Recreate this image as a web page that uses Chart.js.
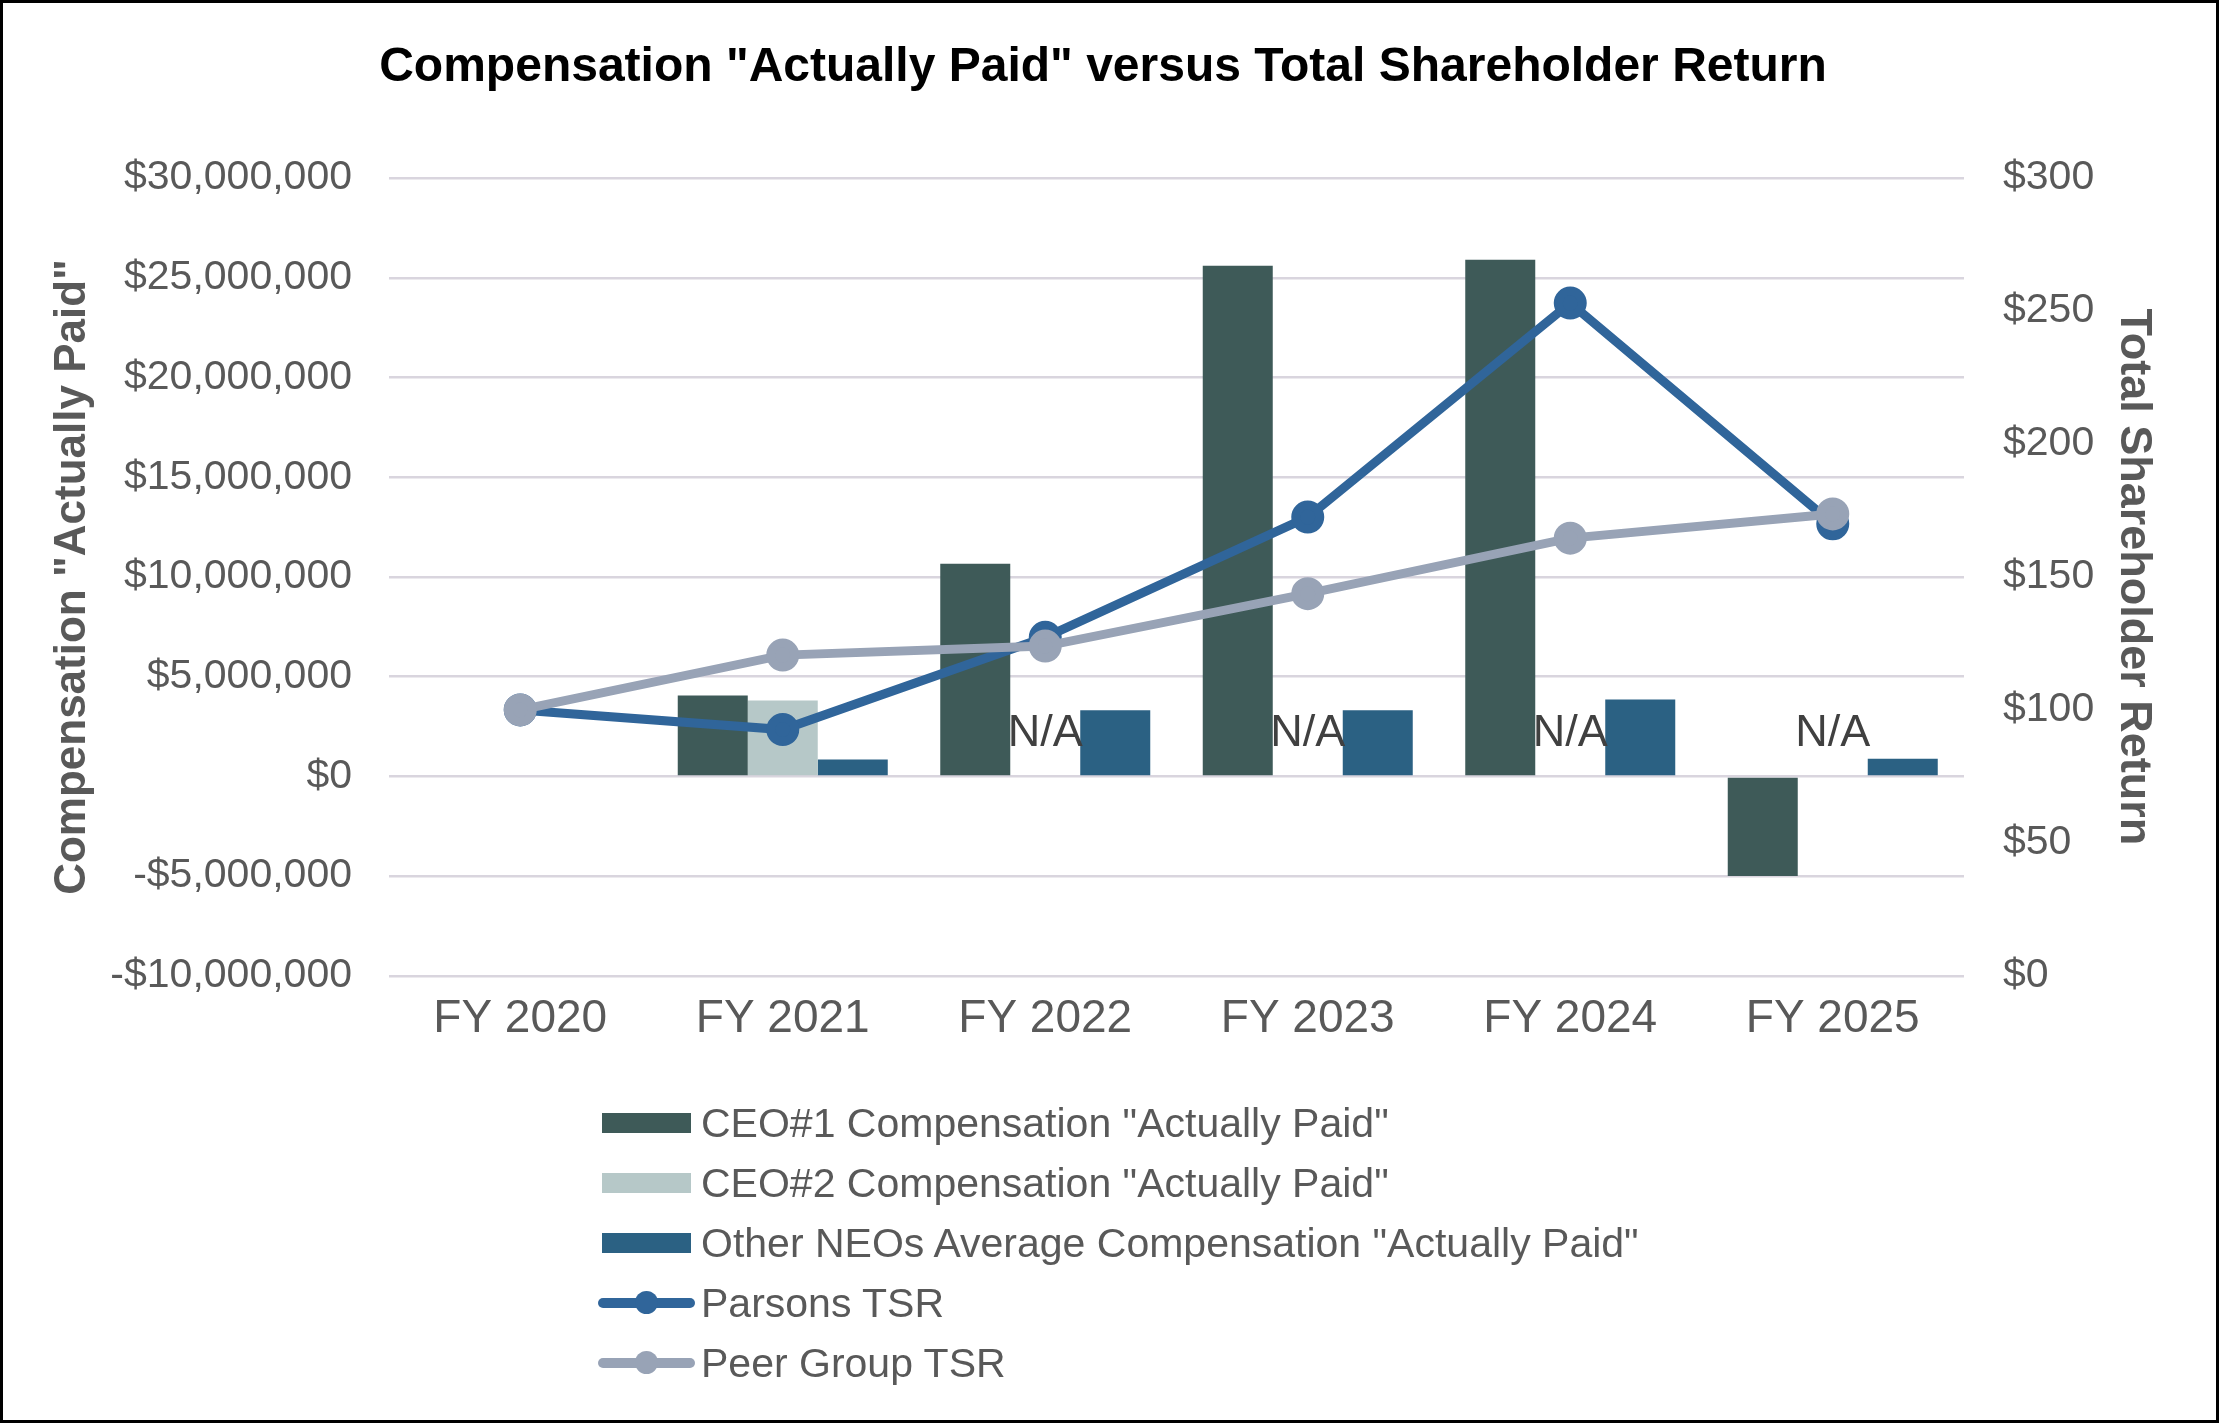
<!DOCTYPE html>
<html>
<head>
<meta charset="utf-8">
<script src="https://cdn.jsdelivr.net/npm/chart.js@4.4.1/dist/chart.umd.min.js"></script>
<style>
	body { margin: 0; background: #ffffff; }
	#wrap { position: relative; width: 2219px; height: 1423px; }
	#frame { position: absolute; left: 0; top: 0; width: 2219px; height: 1423px; box-sizing: border-box; border: 3px solid #000; pointer-events: none; }
	#legend { position: absolute; left: 598px; top: 1093px; font-family: "Liberation Sans", Arial, sans-serif; font-size: 41px; color: #595959; }
	#legend .item { height: 60px; display: flex; align-items: center; white-space: nowrap; }
	#legend .sym { width: 97px; height: 60px; position: relative; margin-right: 6px; }
	#legend .box { position: absolute; left: 4px; top: 20px; width: 89px; height: 20px; }
	#legend .ln { position: absolute; left: 0; top: 25px; width: 97px; height: 10px; border-radius: 5px; }
	#legend .dot { position: absolute; left: 37px; top: 18px; width: 23px; height: 23px; border-radius: 50%; }
</style>
</head>
<body>
<div id="wrap">
	<canvas id="chart-cap" width="2219" height="1423"></canvas>
	<div id="legend"></div>
	<div id="frame"></div>
</div>
<script>
// data
const categories = ['FY 2020', 'FY 2021', 'FY 2022', 'FY 2023', 'FY 2024', 'FY 2025'];
const ceo1Paid = [null, 4060000, 10660000, 25600000, 25900000, -5000000];
const ceo2Paid = [null, 3800000, null, null, null, null];
const otherNeosPaid = [null, 840000, 3310000, 3310000, 3860000, 890000];
const parsonsTsr = [100, 92.6, 127.3, 172.5, 253, 170];
const peerTsr = [100, 120.6, 124, 143.7, 164.6, 173.7];
const naLabels = [null, null, 'N/A', 'N/A', 'N/A', 'N/A'];
const compTicks = [-10000000, 30000000, 5000000];
const tsrTicks = [0, 300, 50];

const fontFamily = '"Liberation Sans", Arial, sans-serif';
const gridColor = '#d9d5de';

function dollars(v) {
	return (v < 0 ? '-$' : '$') + Math.abs(v).toLocaleString('en-US');
}

// N/A labels sit over the CEO#2 slot
const naPlugin = {
	id: 'naLabels',
	afterDatasetsDraw(chart) {
		const ctx = chart.ctx;
		const xs = chart.scales.x;
		const ys = chart.scales.y;
		ctx.save();
		ctx.font = '45px ' + fontFamily;
		ctx.fillStyle = '#404040';
		ctx.textAlign = 'center';
		ctx.textBaseline = 'middle';
		naLabels.forEach((t, i) => {
			if (t) ctx.fillText(t, xs.getPixelForValue(i), ys.getPixelForValue(0) - 43);
		});
		ctx.restore();
	}
};

const dataChartCap = {
	labels: categories,
	datasets: [
		{ type: 'line', label: 'Parsons TSR', data: parsonsTsr, yAxisID: 'y1', order: 1,
			borderColor: '#30659a', backgroundColor: '#30659a', borderWidth: 9, pointRadius: 12, pointHoverRadius: 12, tension: 0 },
		{ type: 'line', label: 'Peer Group TSR', data: peerTsr, yAxisID: 'y1', order: 0,
			borderColor: '#98a3b6', backgroundColor: '#98a3b6', borderWidth: 9, pointRadius: 12, pointHoverRadius: 12, tension: 0 },
		{ type: 'bar', label: 'CEO#1 Compensation "Actually Paid"', data: ceo1Paid, yAxisID: 'y', order: 2,
			backgroundColor: '#3e5a58', categoryPercentage: 0.8, barPercentage: 1.0 },
		{ type: 'bar', label: 'CEO#2 Compensation "Actually Paid"', data: ceo2Paid, yAxisID: 'y', order: 2,
			backgroundColor: '#b6c8c8', categoryPercentage: 0.8, barPercentage: 1.0 },
		{ type: 'bar', label: 'Other NEOs Average Compensation "Actually Paid"', data: otherNeosPaid, yAxisID: 'y', order: 2,
			backgroundColor: '#2b6183', categoryPercentage: 0.8, barPercentage: 1.0 }
	]
};

const configChartCap = {
	data: dataChartCap,
	plugins: [naPlugin],
	options: {
		responsive: false,
		devicePixelRatio: 1,
		animation: false,
		layout: { padding: { left: 46, right: 59, top: 0, bottom: 368 } },
		plugins: {
			legend: { display: false },
			tooltip: { enabled: false },
			title: {
				display: true,
				text: 'Compensation "Actually Paid" versus Total Shareholder Return',
				color: '#000000',
				font: { family: fontFamily, size: 48, weight: 'bold' },
				padding: { top: 39, bottom: 81.5 }
			}
		},
		scales: {
			x: {
				grid: { display: false },
				border: { display: false },
				ticks: { color: '#595959', padding: 8, font: { family: fontFamily, size: 46 } }
			},
			y: {
				position: 'left',
				min: compTicks[0], max: compTicks[1],
				afterFit: (scale) => { scale.width = 343; },
				grid: { color: gridColor, lineWidth: 2.5, drawTicks: false },
				border: { display: false },
				ticks: { stepSize: compTicks[2], color: '#595959', padding: 37, font: { family: fontFamily, size: 41 }, callback: dollars },
				title: { display: true, text: 'Compensation "Actually Paid"', color: '#595959',
					font: { family: fontFamily, size: 44, weight: 'bold' }, padding: { top: 0, bottom: 17 } }
			},
			y1: {
				position: 'right',
				min: tsrTicks[0], max: tsrTicks[1],
				afterFit: (scale) => { scale.width = 196; },
				grid: { display: false, drawTicks: false },
				border: { display: false },
				ticks: { stepSize: tsrTicks[2], color: '#595959', padding: 39, font: { family: fontFamily, size: 41 }, callback: dollars },
				title: { display: true, text: 'Total Shareholder Return', color: '#595959',
					font: { family: fontFamily, size: 45, weight: 'bold' }, padding: { top: 0, bottom: 14 } }
			}
		}
	}
};

const ctx = document.getElementById('chart-cap').getContext('2d');
window.chartCap = new Chart(ctx, configChartCap);

// legend in Excel order: bars first, then lines
const legendOrder = [2, 3, 4, 0, 1];
const $legend = document.getElementById('legend');
legendOrder.forEach(i => {
	const ds = dataChartCap.datasets[i];
	const item = document.createElement('div');
	item.className = 'item';
	let sym;
	if (ds.type === 'bar') {
		sym = '<div class="sym"><div class="box" style="background:' + ds.backgroundColor + '"></div></div>';
	} else {
		sym = '<div class="sym"><div class="ln" style="background:' + ds.borderColor + '"></div>' +
			'<div class="dot" style="background:' + ds.borderColor + '"></div></div>';
	}
	item.innerHTML = sym + '<span></span>';
	item.querySelector('span').textContent = ds.label;
	$legend.appendChild(item);
});
</script>
</body>
</html>
